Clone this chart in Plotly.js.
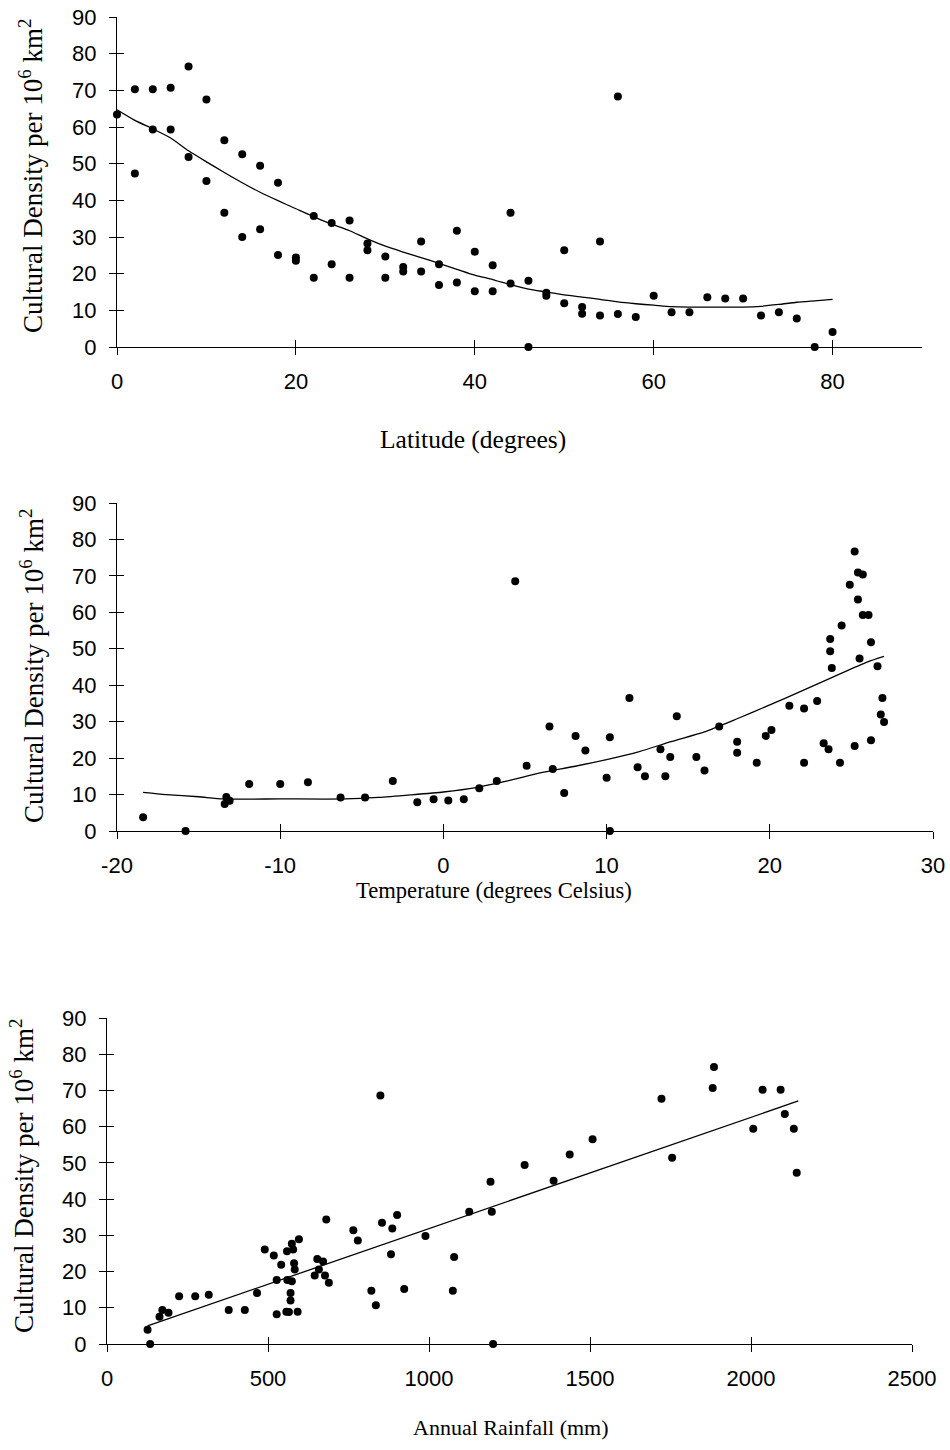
<!DOCTYPE html>
<html>
<head>
<meta charset="utf-8">
<script src="https://cdn.plot.ly/plotly-3.0.1.min.js"></script>
<style>html,body{margin:0;padding:0;background:#fff;}</style>
</head>
<body>
<div id="chart" style="width:950px;height:1450px;"></div>
<script>
// Panel 1: Latitude
const latX = [0,2,2,4,4,6,6,8,8,10,10,12,12,14,14,16,16,18,18,20,20,22,22,24,24,26,26,28,28,30,30,32,32,34,34,36,36,38,38,40,40,42,42,44,44,46,46,48,48,50,50,52,52,54,54,56,56,58,60,62,64,66,68,70,72,74,76,78,80];
const latY = [63.4,70.3,47.3,70.3,59.3,70.7,59.3,76.5,51.8,67.5,45.3,56.4,36.6,52.6,30.0,49.4,32.1,44.8,25.1,24.4,23.5,35.7,18.9,33.8,22.6,34.5,18.9,28.2,26.4,24.7,18.9,21.8,20.6,28.8,20.6,22.6,16.9,31.7,17.6,26.0,15.2,22.3,15.2,36.6,17.3,18.1,0,14.8,14.0,26.4,11.9,10.9,9.1,28.8,8.6,68.3,9.0,8.2,14.0,9.5,9.5,13.6,13.2,13.2,8.6,9.5,7.8,0,4.1];
const latTrendX = [0,2,4,6,8,10,12,14,16,18,20,22,24,26,28,30,32,34,36,38,40,42,44,46,48,50,52,54,56,58,60,62,64,66,68,70,72,74,76,78,80];
const latTrendY = [64.7,61.8,59.5,57.0,53.5,50.5,47.6,44.8,42.2,39.9,37.7,35.5,33.5,31.7,29.5,27.5,25.9,24.4,22.8,21.2,19.6,18.4,17.0,15.8,15.0,14.2,13.6,13.0,12.3,11.8,11.4,11.0,10.9,10.9,10.9,10.9,11.1,11.6,12.2,12.6,13.0];
const latTicks = [0,20,40,60,80];
const latTickText = ['0','20','40','60','80'];

// Panel 2: Temperature
const tempX = [-18.4,-15.8,-13.4,-13.3,-13.1,-11.9,-10.0,-8.3,-6.3,-4.8,-3.1,-1.6,-0.6,0.3,1.25,2.2,3.27,4.4,5.1,6.5,6.7,7.4,8.1,8.7,10.0,10.2,10.2,11.4,11.9,12.35,13.3,13.6,13.9,14.3,15.5,16.0,16.9,18.0,18.0,19.2,19.75,20.1,21.2,22.1,22.1,22.9,23.3,23.6,23.7,23.7,23.8,24.3,24.4,24.9,25.2,25.2,25.4,25.7,25.4,25.5,25.7,26.05,26.2,26.2,26.6,26.9,26.8,27.0];
const tempY = [3.8,0,7.4,9.3,8.3,12.9,12.9,13.4,9.2,9.2,13.7,7.9,8.7,8.4,8.7,11.7,13.7,68.5,17.9,28.7,17.0,10.4,26.1,22.1,14.6,25.7,0,36.5,17.5,15.0,22.4,15.0,20.3,31.5,20.3,16.6,28.7,24.5,21.5,18.7,26.1,27.7,34.4,33.6,18.7,35.7,24.1,22.4,52.7,49.3,44.7,18.7,56.4,67.6,76.7,23.3,70.9,70.4,63.5,47.3,59.3,59.3,24.9,51.8,45.2,36.5,32.0,29.9];
const tempTrendX = [-18.4,-17,-15,-13.5,-10,-6,-4,-2,0,2,4,6,8,10,12,14,16,18,20,22,24,26,27];
const tempTrendY = [10.6,10.0,9.4,8.8,8.8,8.8,9.2,9.9,10.7,11.9,13.8,16.0,17.7,19.6,21.8,24.6,27.2,30.8,34.6,38.5,42.5,46.4,47.9];
const tempTicks = [-20,-10,0,10,20,30];
const tempTickText = ['-20','-10','0','10','20','30'];

// Panel 3: Annual rainfall
const rainX = [849,1297,1191,1125,1195,989,1078,901,854,886,882,765,779,681,596,574,578,559,490,518,541,581,583,653,671,658,645,677,1387,1437,1508,1722,1755,1885,1881,2036,2092,2007,2105,2133,2142,126,134,163,172,191,224,274,316,378,428,466,527,527,557,565,560,574,570,570,592,689,821,835,923,1074,1199];
const rainY = [68.6,49.4,44.8,36.5,36.5,29.8,24.0,35.6,33.5,31.9,24.8,31.4,28.6,34.4,28.9,27.7,26.1,25.6,26.1,24.4,21.9,22.3,20.6,23.5,22.8,20.6,18.9,18.9,45.1,52.3,56.5,67.7,51.4,76.5,70.7,70.2,70.2,59.4,63.5,59.4,47.3,3.95,0,7.5,9.4,8.6,13.2,13.2,13.6,9.4,9.4,14.1,17.7,8.2,8.9,8.8,17.7,17.3,14.1,12.0,8.9,16.9,14.7,10.7,15.2,14.7,0];
const rainTrendX = [126,2147];
const rainTrendY = [5.0,67.1];
const rainTicks = [0,500,1000,1500,2000,2500];
const rainTickText = ['0','500','1000','1500','2000','2500'];

const yTicks = [0,10,20,30,40,50,60,70,80,90];
const yTickText = ['0','10','20','30','40','50','60','70','80','90'];
const yTitle = 'Cultural Density per 10<sup>6</sup> km<sup>2</sup>';
const xTitles = ['Latitude (degrees)','Temperature (degrees Celsius)','Annual Rainfall (mm)'];

const W = 950, H = 1450;
const panels = [
  {px:[117,922], py:[17,347], xr:[0,90], tv:latTicks, tt:latTickText, xs:[latX,latY], tr:[latTrendX,latTrendY],
   xt:[473,440], xts:25.5, yt:[31,176]},
  {px:[117,933], py:[503,831], xr:[-20,30], tv:tempTicks, tt:tempTickText, xs:[tempX,tempY], tr:[tempTrendX,tempTrendY],
   xt:[494,890], xts:22.6, yt:[32,666]},
  {px:[107,912], py:[1018,1344], xr:[0,2500], tv:rainTicks, tt:rainTickText, xs:[rainX,rainY], tr:[rainTrendX,rainTrendY],
   xt:[511,1427], xts:22, yt:[22,1176]}
];

const tickFont = {family:'Liberation Sans, Arial, sans-serif', size:22, color:'#000'};
const serif = 'Liberation Serif, Times New Roman, serif';

const data = [];
const annotations = [];
const layout = {
  width:W, height:H, margin:{l:0,r:0,t:0,b:0},
  paper_bgcolor:'#fff', plot_bgcolor:'rgba(0,0,0,0)', showlegend:false
};

panels.forEach((p, i) => {
  const n = i + 1, m = i + 4;
  const dx = [p.px[0]/W, p.px[1]/W];
  const dy = [1 - p.py[1]/H, 1 - p.py[0]/H];
  const xa = 'x' + n, ya = 'y' + n;
  const xo = 'x' + m, yo = 'y' + m;
  data.push({type:'scatter', mode:'markers', x:p.xs[0], y:p.xs[1], xaxis:xa, yaxis:ya,
    marker:{color:'#000', size:8}, cliponaxis:false, hoverinfo:'x+y'});
  data.push({type:'scatter', mode:'lines', x:p.tr[0], y:p.tr[1], xaxis:xa, yaxis:ya,
    line:{color:'#000', width:1.3, shape:'spline', smoothing:0.6}, cliponaxis:false, hoverinfo:'skip'});
  // invisible trace so the overlay axes (inward half of the crossing ticks) are drawn
  data.push({type:'scatter', mode:'markers', x:[p.xr[0]], y:[0], xaxis:xo, yaxis:yo,
    marker:{opacity:0, size:1}, hoverinfo:'skip'});
  const common = {showgrid:false, zeroline:false, fixedrange:true, tickcolor:'#000', ticklen:7, tickwidth:1, automargin:false};
  layout['xaxis' + (n === 1 ? '' : n)] = Object.assign({}, common, {
    domain:dx, anchor:ya, range:p.xr, tickmode:'array', tickvals:p.tv, ticktext:p.tt, ticks:'outside',
    showline:true, linecolor:'#000', linewidth:1, tickfont:tickFont, ticklabelstandoff:8
  });
  layout['yaxis' + (n === 1 ? '' : n)] = Object.assign({}, common, {
    domain:dy, anchor:xa, range:[0,90], tickmode:'array', tickvals:yTicks, ticktext:yTickText, ticks:'outside',
    showline:true, linecolor:'#000', linewidth:1, tickfont:tickFont, ticklabelstandoff:8
  });
  layout['xaxis' + m] = Object.assign({}, common, {
    domain:dx, anchor:yo, overlaying:xa, range:p.xr, tickmode:'array', tickvals:p.tv,
    ticks:'inside', showline:false, showticklabels:false
  });
  layout['yaxis' + m] = Object.assign({}, common, {
    domain:dy, anchor:xo, overlaying:ya, range:[0,90], tickmode:'array', tickvals:yTicks,
    ticks:'inside', showline:false, showticklabels:false
  });
  annotations.push({xref:'paper', yref:'paper', x:p.xt[0]/W, y:1 - p.xt[1]/H, xanchor:'center', yanchor:'middle',
    showarrow:false, text:xTitles[i], font:{family:serif, size:p.xts, color:'#000'}});
  annotations.push({xref:'paper', yref:'paper', x:p.yt[0]/W, y:1 - p.yt[1]/H, xanchor:'center', yanchor:'middle',
    showarrow:false, textangle:-90, text:yTitle, font:{family:serif, size:27, color:'#000'}});
});
layout.annotations = annotations;

Plotly.newPlot('chart', data, layout, {displayModeBar:false, staticPlot:true});
</script>
</body>
</html>
